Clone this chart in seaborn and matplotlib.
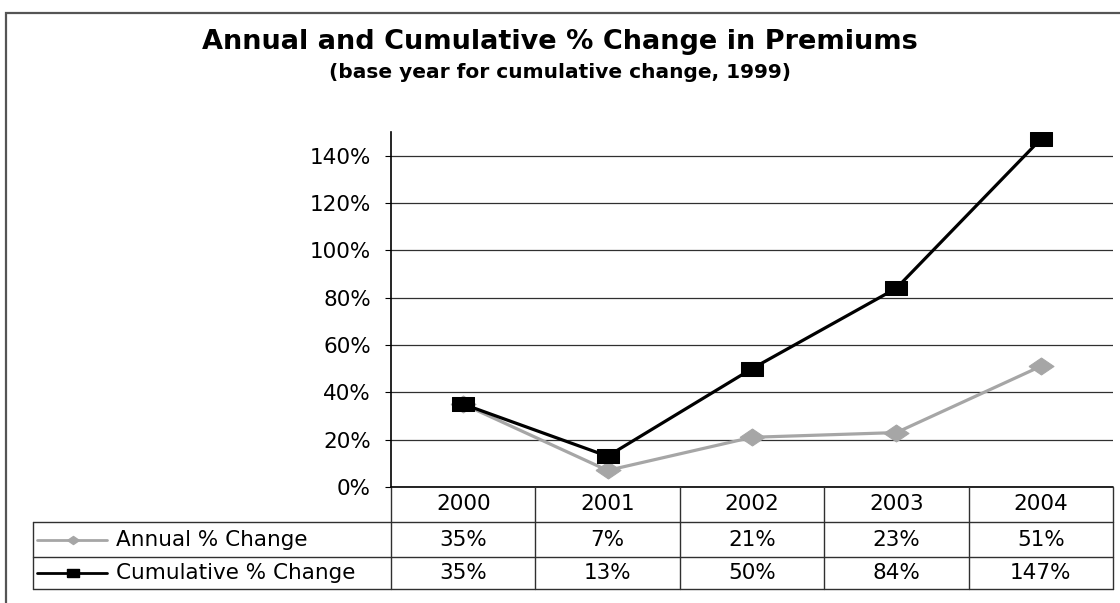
import matplotlib
matplotlib.use("Agg")
import matplotlib.pyplot as plt
import matplotlib.transforms as mtransforms
from matplotlib.lines import Line2D
from matplotlib.patches import Rectangle
import seaborn as sns
import pandas as pd

# ---- data ----
years = ["2000", "2001", "2002", "2003", "2004"]
annual = [0.35, 0.07, 0.21, 0.23, 0.51]
cumulative = [0.35, 0.13, 0.50, 0.84, 1.47]
annual_labels = ["35%", "7%", "21%", "23%", "51%"]
cumulative_labels = ["35%", "13%", "50%", "84%", "147%"]
series_names = ["Annual % Change", "Cumulative % Change"]
y_ticks = [0.0, 0.2, 0.4, 0.6, 0.8, 1.0, 1.2, 1.4]
y_ticklabels = ["0%", "20%", "40%", "60%", "80%", "100%", "120%", "140%"]
title = "Annual and Cumulative % Change in Premiums"
subtitle = "(base year for cumulative change, 1999)"

sns.set_theme(style="white")
plt.rcParams["font.family"] = ["DejaVu Sans"]
plt.rcParams["text.color"] = "black"
plt.rcParams["ytick.color"] = "black"
plt.rcParams["ytick.labelcolor"] = "black"

W, H = 1120, 603
fig = plt.figure(figsize=(W / 100, H / 100), dpi=100)
fig.patch.set_facecolor("white")

# axes placement (pixels)
left_px, right_px, top_px, bottom_px = 391, 1113, 132, 487
ax = fig.add_axes([left_px / W, 1 - bottom_px / H, (right_px - left_px) / W, (bottom_px - top_px) / H])

df = pd.DataFrame({
    "x": list(range(len(years))) * 2,
    "value": annual + cumulative,
    "series": [series_names[0]] * len(years) + [series_names[1]] * len(years),
})

# wide (stretched) marker shapes
wide_square = [(-1, -0.65), (1, -0.65), (1, 0.65), (-1, 0.65), (-1, -0.65)]
wide_diamond = [(-1, 0), (0, 0.68), (1, 0), (0, -0.68), (-1, 0)]

grey = "#a6a6a6"
sns.lineplot(data=df[df.series == series_names[0]], x="x", y="value", ax=ax,
             color=grey, linewidth=2.3, marker=wide_diamond, markersize=18,
             markeredgecolor=grey, markerfacecolor=grey, zorder=3)
sns.lineplot(data=df[df.series == series_names[1]], x="x", y="value", ax=ax,
             color="black", linewidth=2.3, marker=wide_square, markersize=16.5,
             markeredgecolor="black", markerfacecolor="black", zorder=4)

ax.set_xlim(-0.5, len(years) - 0.5)
ax.set_ylim(0, 1.5)
ax.set_yticks(y_ticks)
ax.set_yticklabels(y_ticklabels, fontsize=15.5)
ax.set_xticks([])
ax.set_xlabel("")
ax.set_ylabel("")
ax.yaxis.grid(True, color="#303030", linewidth=0.9)
ax.tick_params(axis="y", length=4.5, width=0.8, color="black", pad=10, left=True)
for s in ["top", "right", "bottom"]:
    ax.spines[s].set_visible(False)
ax.spines["left"].set_color("black")
ax.spines["left"].set_linewidth(1.2)

# ---- data table below axes ----
ah = bottom_px - top_px
aw = right_px - left_px
def yfrac(py):
    return -(py - bottom_px) / ah
def xfrac(px):
    return (px - left_px) / aw

tc = "#303030"
lw = 1.0
r0, r1, r2, r3 = yfrac(487), yfrac(522), yfrac(557), yfrac(589)
tx = ax.transAxes
# horizontal lines
ax.add_line(Line2D([0, 1], [r0, r0], transform=tx, color="black", lw=1.2, clip_on=False))
for r in (r1, r2, r3):
    ax.add_line(Line2D([xfrac(33), 1], [r, r], transform=tx, color=tc, lw=lw, clip_on=False))
# vertical lines
ax.add_line(Line2D([xfrac(33), xfrac(33)], [r1, r3], transform=tx, color=tc, lw=lw, clip_on=False))
n = len(years)
for i in range(n + 1):
    xf = i / n
    ax.add_line(Line2D([xf, xf], [r0, r3], transform=tx, color=tc, lw=lw, clip_on=False))

blend = mtransforms.blended_transform_factory(ax.transData, ax.transAxes)
fs = 15.5
for i, yr in enumerate(years):
    ax.text(i, (r0 + r1) / 2, yr, transform=blend, ha="center", va="center", fontsize=fs)
    ax.text(i, (r1 + r2) / 2, annual_labels[i], transform=blend, ha="center", va="center", fontsize=fs)
    ax.text(i, (r2 + r3) / 2, cumulative_labels[i], transform=blend, ha="center", va="center", fontsize=fs)

# legend keys in table
ym1 = (r1 + r2) / 2
ym2 = (r2 + r3) / 2
ax.add_line(Line2D([xfrac(37), xfrac(107)], [ym1, ym1], transform=tx, color=grey, lw=2, clip_on=False))
ax.add_line(Line2D([xfrac(73)], [ym1], transform=tx, color=grey, marker=wide_diamond, markersize=8.5,
                   clip_on=False))
ax.add_line(Line2D([xfrac(37), xfrac(107)], [ym2, ym2], transform=tx, color="black", lw=2, clip_on=False))
ax.add_line(Line2D([xfrac(73)], [ym2], transform=tx, color="black", marker=wide_square, markersize=8.5,
                   clip_on=False))
ax.text(xfrac(116), ym1, series_names[0], transform=tx, ha="left", va="center", fontsize=fs)
ax.text(xfrac(116), ym2, series_names[1], transform=tx, ha="left", va="center", fontsize=fs)

# titles
fig.text(0.5, 1 - 42 / H, title, ha="center", va="center", fontsize=19.5, fontweight="bold")
fig.text(0.5, 1 - 73 / H, subtitle, ha="center", va="center", fontsize=14.5, fontweight="bold")

# outer chart frame
fig.add_artist(Rectangle((6 / W, -0.2), 1.2, 1.2 - 13 / H, transform=fig.transFigure,
                         fill=False, edgecolor="#555555", linewidth=1.6))

fig.savefig("out.png", dpi=100, facecolor="white")
